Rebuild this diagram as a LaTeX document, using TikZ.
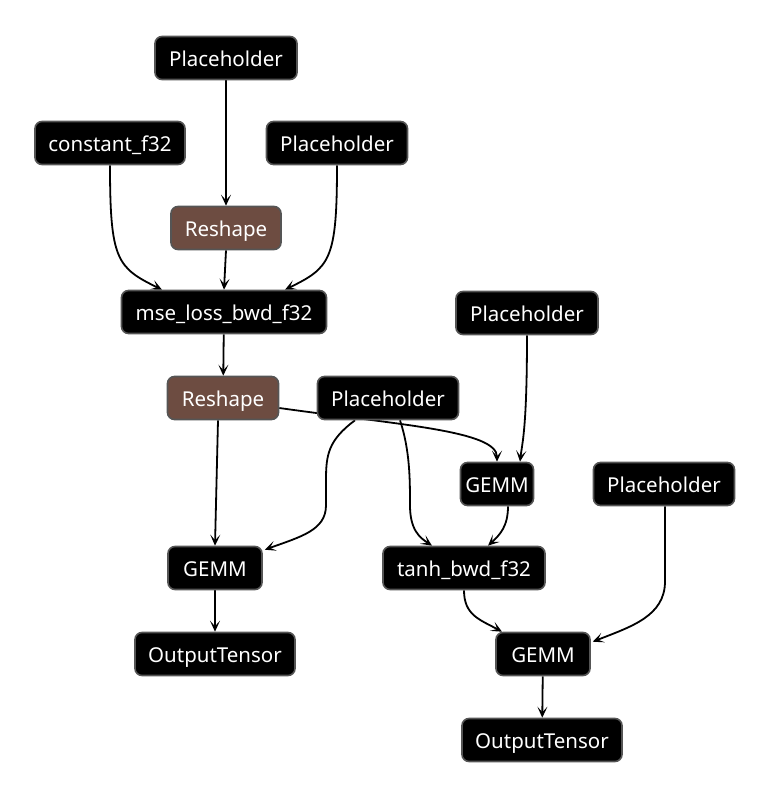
\documentclass[tikz,border=0pt]{standalone}
\usepackage{fontspec}
\setmainfont{Noto Sans}
\usetikzlibrary{arrows.meta}
\pgfdeclarelayer{bg}
\pgfsetlayers{bg,main}
\definecolor{brownfill}{HTML}{6D4C41}
\definecolor{edgegray}{HTML}{555555}
\tikzset{
  opbox/.style={draw=edgegray, line width=1.6pt, fill=black, rounded corners=7pt,
    text=white, font=\fontsize{20.5}{24}\selectfont, inner sep=0pt, minimum height=43pt,
    text height=16pt, text depth=0pt},
  rsbox/.style={opbox, fill=brownfill},
  conn/.style={draw=black, line width=1.8pt, -{Stealth[length=11pt,width=10pt,inset=5.5pt]}}
}
\begin{document}
\begin{tikzpicture}[x=1pt,y=-1pt]
\useasboundingbox (0,0) rectangle (772,798);
\node[opbox, minimum width=142pt] (p1) at (226,58) {Placeholder};
\node[opbox, minimum width=150pt] (c) at (110,143) {constant\_f32};
\node[opbox, minimum width=141pt] (p2) at (337,143) {Placeholder};
\node[rsbox, minimum width=110pt] (r1) at (226,228) {Reshape};
\node[opbox, minimum width=205pt] (mse) at (224,312) {mse\_loss\_bwd\_f32};
\node[opbox, minimum width=142pt] (p3) at (527,313) {Placeholder};
\node[rsbox, minimum width=111pt] (r2) at (223,398) {Reshape};
\node[opbox, minimum width=141pt] (p4) at (388,398) {Placeholder};
\node[opbox, minimum width=73pt] (g1) at (497,484) {GEMM};
\node[opbox, minimum width=141pt] (p5) at (664,484) {Placeholder};
\node[opbox, minimum width=94pt] (g2) at (215,568) {GEMM};
\node[opbox, minimum width=162pt] (tanh) at (464,568) {tanh\_bwd\_f32};
\node[opbox, minimum width=160pt] (o1) at (215,654) {OutputTensor};
\node[opbox, minimum width=94pt] (g3) at (543,654) {GEMM};
\node[opbox, minimum width=160pt] (o2) at (542,740) {OutputTensor};
\begin{pgfonlayer}{bg}
\draw[conn] (p1) -- (r1);
\draw[conn] (c.south) .. controls +(0,95) and +(-45,-22) .. ([xshift=-62pt]mse.north);
\draw[conn] (r1.south) -- (mse.north);
\draw[conn] (p2.south) .. controls +(0,95) and +(45,-22) .. ([xshift=61pt]mse.north);
\draw[conn] (mse) -- (r2);
\draw[conn] ([yshift=-10pt]r2.east) .. controls +(121,17) and +(0,-31) .. (g1.north);
\draw[conn] ([xshift=-5pt]r2.south) -- ([xshift=0pt]g2.north);
\draw[conn] (p3.south) .. controls +(0,95) and +(2,-18) .. ([xshift=23pt]g1.north);
\draw[conn] ([xshift=-33pt]p4.south) .. controls +(-27,20) and +(0,-25) .. ++(-29,60) -- ++(0,25)
  .. controls +(0,25) and +(36,-13) .. ([xshift=2pt,yshift=-4pt]g2.north east);
\draw[conn] ([xshift=12pt]p4.south) .. controls +(10,30) and +(0,-25) .. ++(10,85)
  .. controls +(0,25) and +(-12,-8) .. ([xshift=-32pt]tanh.north);
\draw[conn] ([xshift=11pt]g1.south) .. controls +(0,20) and +(12,-11) .. ([xshift=24pt]tanh.north);
\draw[conn] ([xshift=1pt]p5.south) -- ++(0,75) .. controls +(0,35) and +(38,-15) .. ([xshift=2pt,yshift=-10pt]g3.north east);
\draw[conn] (tanh.south) .. controls +(0,25) and +(-22,-12) .. ([xshift=-41pt]g3.north);
\draw[conn] (g2) -- (o1);
\draw[conn] (g3) -- (o2);
\end{pgfonlayer}
\end{tikzpicture}
\end{document}
